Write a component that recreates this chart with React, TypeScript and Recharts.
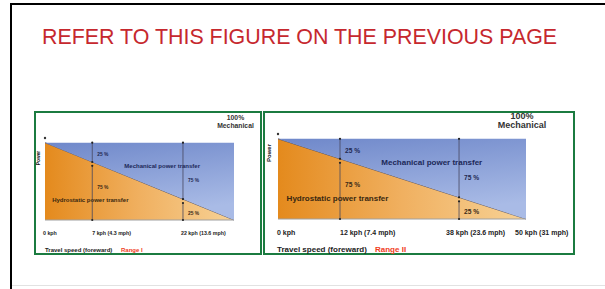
import React from 'react';
import { ComposedChart, Area, XAxis, YAxis, ReferenceLine, ReferenceDot } from 'recharts';

// mechanical share (%) along the travel-speed axis
const shareStops = [0, 25, 73, 100];
const hydroShare = [100, 75, 27, 0];
const mechShare = [0, 25, 73, 100];

const range1Ticks = ['0 kph', '7 kph (4.3 mph)', '22 kph (13.6 mph)', ''];
const range2Ticks = ['0 kph', '12 kph (7.4 mph)', '38 kph (23.6 mph)', '50 kph (31 mph)'];

const markerShares = [25, 73];
const mechLabels = ['25 %', '75 %'];
const hydroLabels = ['75 %', '25 %'];

const FONT = '"Liberation Sans", Arial, sans-serif';

type PanelCfg = {
  id: string;
  left: number;
  top: number;
  width: number;
  height: number;
  margin: { top: number; right: number; bottom: number; left: number };
  ticks: string[];
  tickShares: number[];
  tickDx: number[];
  tickDy: number;
  rangeName: string;
  f: { tick: number; region: number; pct: number; power: number; head: number; travel: number };
  powerPos: [number, number];
  head: { x: number; top: number; lh: number };
  travel: { x: number; top: number; rangeX: number; lh: number };
};

const panels: PanelCfg[] = [
  {
    id: 'r1',
    left: 34, top: 111, width: 228, height: 144,
    margin: { top: 25, right: 26, bottom: 19, left: 9 },
    ticks: range1Ticks,
    tickShares: [0, 25, 73],
    tickDx: [-2, 0, -2, 0],
    tickDy: 15,
    rangeName: 'Range I',
    f: { tick: 5.3, region: 6, pct: 4.9, power: 4.8, head: 6.8, travel: 6 },
    powerPos: [2.5, 45],
    head: { x: 199.5, top: 1, lh: 8 },
    travel: { x: 9, top: 133, rangeX: 85, lh: 8 },
  },
  {
    id: 'r2',
    left: 263, top: 111, width: 312, height: 144,
    margin: { top: 21, right: 47, bottom: 20, left: 13 },
    ticks: range2Ticks,
    tickShares: [0, 25, 73, 100],
    tickDx: [-1, 0, -13, -11],
    tickDy: 15.5,
    rangeName: 'Range II',
    f: { tick: 7, region: 8, pct: 6.6, power: 6, head: 9, travel: 8 },
    powerPos: [4, 40],
    head: { x: 257, top: -1.5, lh: 9 },
    travel: { x: 12, top: 132, rangeX: 110, lh: 10 },
  },
];

const Panel = ({ cfg }: { cfg: PanelCfg }) => {
  const data = shareStops.map((s, i) => ({ share: s, hydro: hydroShare[i], mech: mechShare[i] }));
  const lineColor = '#46465e';
  const txt = { fontFamily: FONT, fontWeight: 700 };

  const renderTick = (props: any) => {
    const { x, y, payload } = props;
    const i = shareStops.indexOf(payload.value);
    return (
      <text x={x + cfg.tickDx[i]} y={y + cfg.tickDy} textAnchor="start" fontSize={cfg.f.tick} fill="#222" {...txt}>
        {cfg.ticks[i]}
      </text>
    );
  };

  return (
    <div
      style={{
        position: 'absolute', left: cfg.left, top: cfg.top, width: cfg.width, height: cfg.height,
        border: '2px solid #1b7b40', boxSizing: 'border-box', background: '#fff',
      }}
    >
      <ComposedChart width={cfg.width - 4} height={cfg.height - 4} data={data} margin={cfg.margin}>
        <defs>
          <linearGradient id={`orange-${cfg.id}`} x1="0" y1="0" x2="1" y2="0">
            <stop offset="0" stopColor="#e48a1d" />
            <stop offset="0.5" stopColor="#f0b060" />
            <stop offset="1" stopColor="#f7d296" />
          </linearGradient>
          <linearGradient id={`blue-${cfg.id}`} x1="0" y1="0" x2="0.3" y2="1">
            <stop offset="0" stopColor="#6f88ca" />
            <stop offset="1" stopColor="#a9bbe6" />
          </linearGradient>
        </defs>
        <XAxis
          type="number" dataKey="share" domain={[0, 100]} ticks={cfg.tickShares} interval={0}
          tickLine={false} tickSize={0} tickMargin={0} axisLine={{ stroke: '#a0a0a0' }}
          height={14} tick={renderTick}
        />
        <YAxis type="number" domain={[0, 106]} width={0} tick={false} tickLine={false} axisLine={{ stroke: '#a0a0a0' }} />
        <Area
          type="linear" dataKey="hydro" stackId="p" fill={`url(#orange-${cfg.id})`} fillOpacity={1}
          stroke={lineColor} strokeWidth={0.8} isAnimationActive={false} dot={false} activeDot={false}
        />
        <Area
          type="linear" dataKey="mech" stackId="p" fill={`url(#blue-${cfg.id})`} fillOpacity={1}
          stroke="none" isAnimationActive={false} dot={false} activeDot={false}
        />
        <ReferenceDot x={0} y={106} r={1.2} fill="#333" stroke="none" ifOverflow="visible" />
        {markerShares.map((m) => (
          <ReferenceLine key={`u${m}`} segment={[{ x: m, y: 100 }, { x: m, y: 100 - m }]} stroke={lineColor} strokeWidth={0.8} />
        ))}
        {markerShares.map((m) => (
          <ReferenceLine key={`l${m}`} segment={[{ x: m, y: 100 - m - 5 }, { x: m, y: 0 }]} stroke={lineColor} strokeWidth={0.8} />
        ))}
        {markerShares.flatMap((m) =>
          [100, 100 - m, 100 - m - 5, 0].map((yy) => (
            <ReferenceDot key={`d${m}-${yy}`} x={m} y={yy} r={1.1} fill="#222" stroke="none" />
          ))
        )}
        {markerShares.map((m, i) => (
          <ReferenceDot
            key={`mp${m}`} x={m} y={i === 0 ? 85 : 51} r={0} fill="none" stroke="none"
            label={{ value: mechLabels[i], position: 'right', offset: 5, fontSize: cfg.f.pct, fill: '#1f2850', ...txt }}
          />
        ))}
        {markerShares.map((m, i) => (
          <ReferenceDot
            key={`hp${m}`} x={m} y={i === 0 ? 42.5 : 9} r={0} fill="none" stroke="none"
            label={{ value: hydroLabels[i], position: 'right', offset: 5, fontSize: cfg.f.pct, fill: '#3a2a18', ...txt }}
          />
        ))}
        <ReferenceDot
          x={62} y={70.5} r={0} fill="none" stroke="none"
          label={{ value: 'Mechanical power transfer', position: 'center', fontSize: cfg.f.region, fill: '#1c2858', ...txt }}
        />
        <ReferenceDot
          x={24} y={26} r={0} fill="none" stroke="none"
          label={{ value: 'Hydrostatic power transfer', position: 'center', fontSize: cfg.f.region, fill: '#3a2810', ...txt }}
        />
      </ComposedChart>

      <div
        style={{
          position: 'absolute', left: cfg.powerPos[0], top: cfg.powerPos[1],
          transform: 'translate(-50%, -50%) rotate(-90deg)', fontSize: cfg.f.power, lineHeight: 1,
          color: '#111', whiteSpace: 'nowrap', ...txt,
        }}
      >
        Power
      </div>
      <div
        style={{
          position: 'absolute', left: cfg.head.x, top: cfg.head.top, transform: 'translateX(-50%)',
          textAlign: 'center', fontSize: cfg.f.head, lineHeight: `${cfg.head.lh}px`, color: '#333', ...txt,
        }}
      >
        <div>100%</div>
        <div>Mechanical</div>
      </div>
      <div
        style={{
          position: 'absolute', left: cfg.travel.x, top: cfg.travel.top, fontSize: cfg.f.travel,
          lineHeight: `${cfg.travel.lh}px`, color: '#222', whiteSpace: 'nowrap', ...txt,
        }}
      >
        Travel speed (foreward)
      </div>
      <div
        style={{
          position: 'absolute', left: cfg.travel.rangeX, top: cfg.travel.top, fontSize: cfg.f.travel,
          lineHeight: `${cfg.travel.lh}px`, color: '#f0401e', whiteSpace: 'nowrap', ...txt,
        }}
      >
        {cfg.rangeName}
      </div>
    </div>
  );
};

export default function App() {
  return (
    <div style={{ position: 'fixed', left: 0, top: 0, width: 605, height: 289, background: '#fff', overflow: 'hidden', fontFamily: FONT }}>
      <div style={{ position: 'absolute', left: 10, top: 3, width: 595, height: 2, background: '#000' }} />
      <div style={{ position: 'absolute', left: 10, top: 3, width: 2, height: 286, background: '#000' }} />
      <div style={{ position: 'absolute', left: 12, top: 285, width: 593, height: 1, background: '#e2e2e2' }} />
      <div
        style={{
          position: 'absolute', left: 42, top: 27, fontSize: 21.4, lineHeight: '21px', color: '#c6282e',
          whiteSpace: 'nowrap',
        }}
      >
        REFER TO THIS FIGURE ON THE PREVIOUS PAGE
      </div>
      {panels.map((p) => (
        <Panel key={p.id} cfg={p} />
      ))}
    </div>
  );
}
